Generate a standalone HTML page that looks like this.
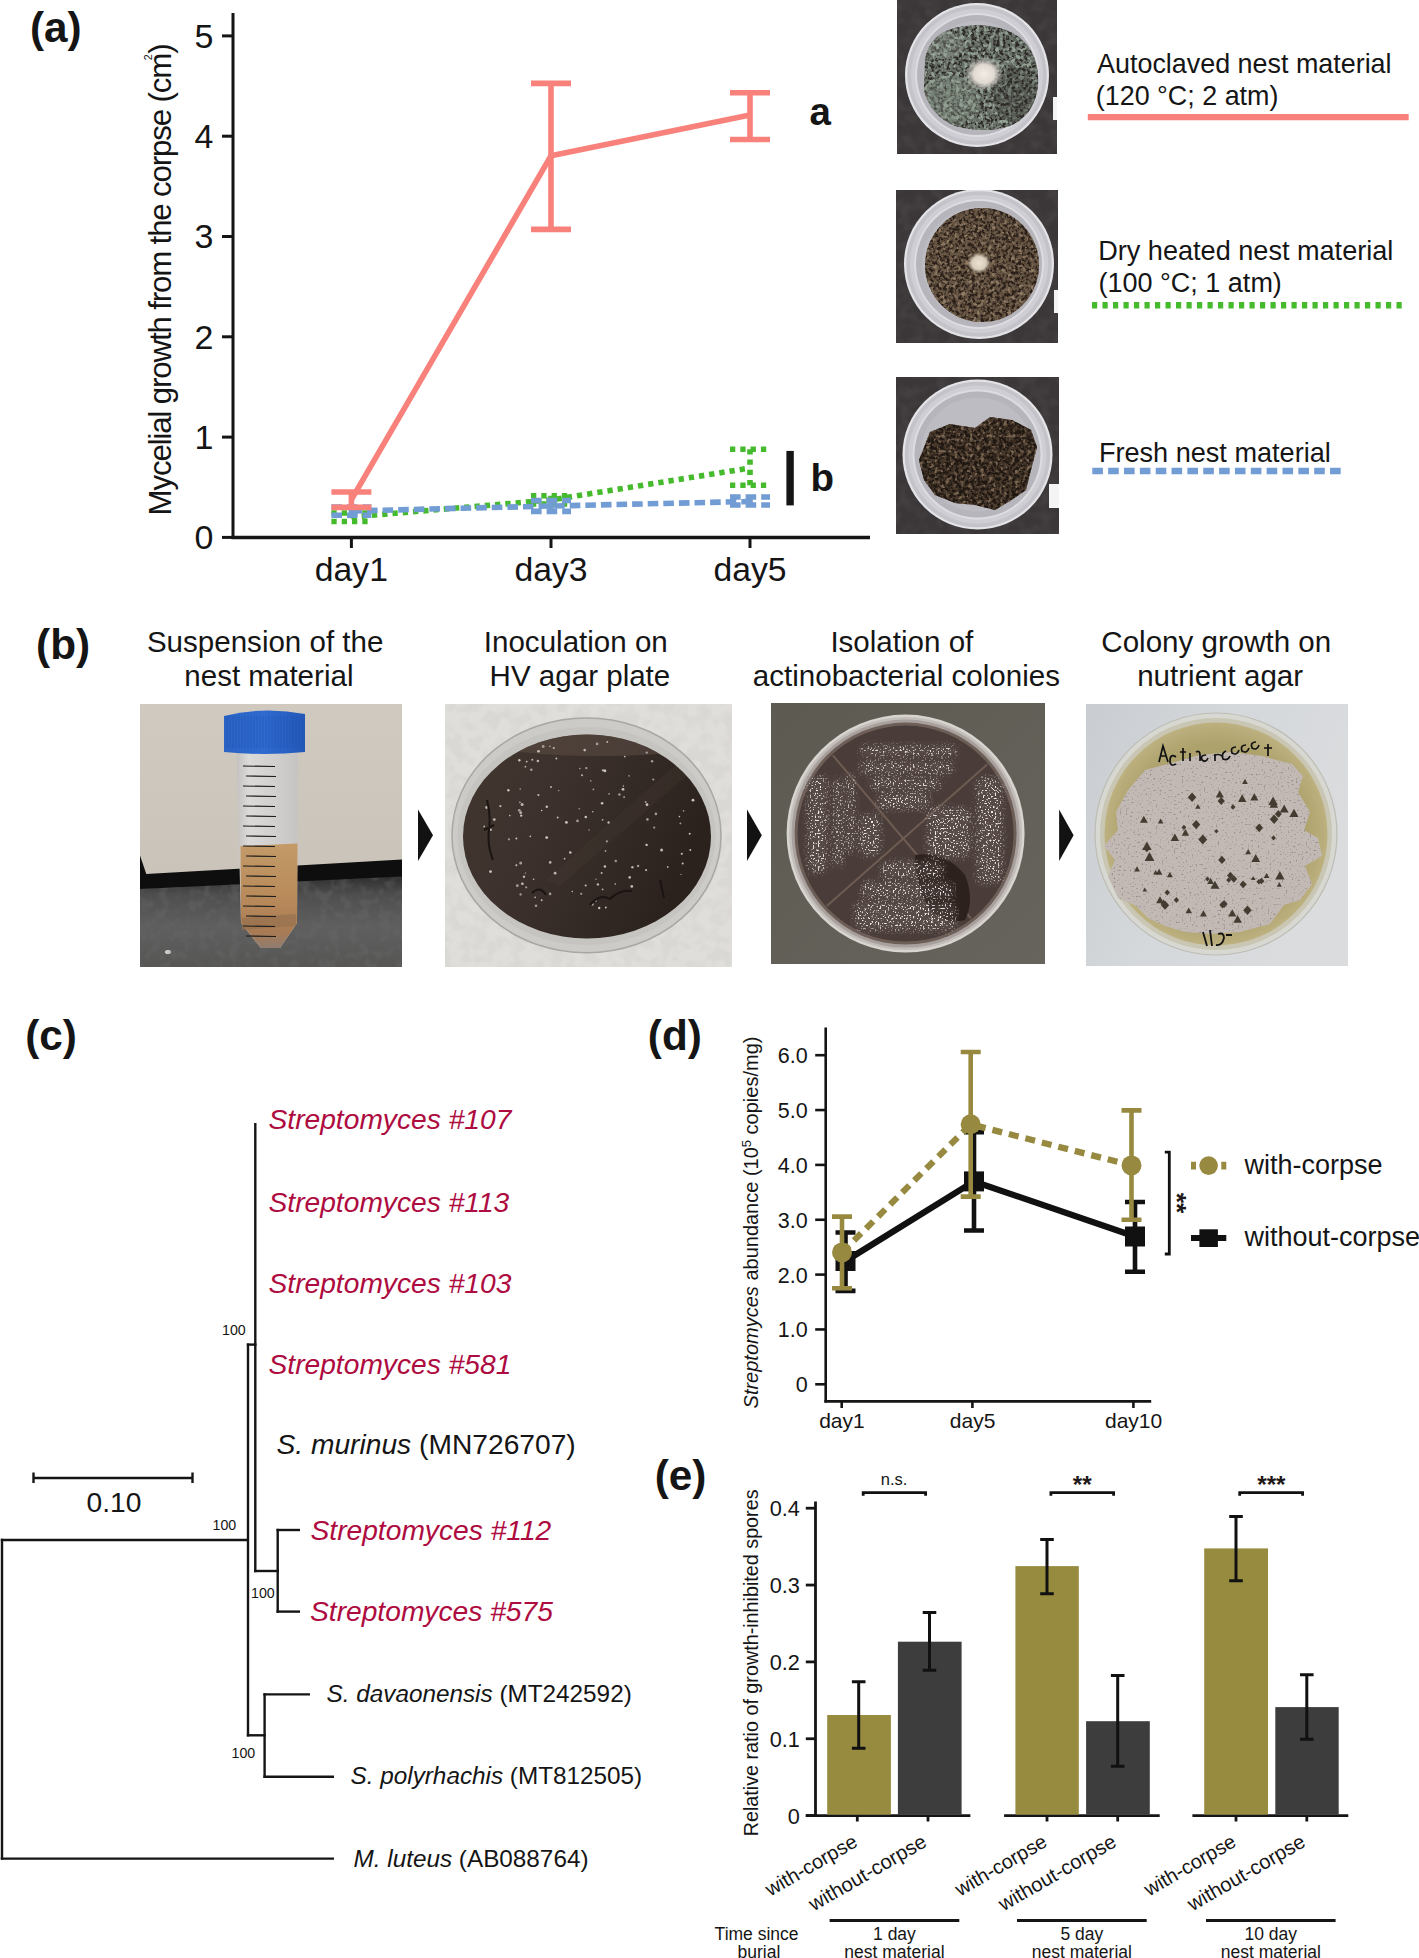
<!DOCTYPE html>
<html><head><meta charset="utf-8"><title>Figure</title>
<style>
html,body{margin:0;padding:0;background:#fff;width:1419px;height:1958px;overflow:hidden}
svg{display:block}
text{font-family:"Liberation Sans", sans-serif}
</style></head><body>
<svg width="1419" height="1958" viewBox="0 0 1419 1958">
<rect width="1419" height="1958" fill="#fff"/>
<text x="30" y="41.7" font-size="42.3" text-anchor="start" font-weight="bold" fill="#151515" >(a)</text>
<line x1="233" y1="13" x2="233" y2="539" stroke="#151515" stroke-width="3" />
<line x1="231.5" y1="537.5" x2="870" y2="537.5" stroke="#151515" stroke-width="3.5" />
<line x1="222" y1="537.4" x2="233" y2="537.4" stroke="#151515" stroke-width="3" />
<text x="213.4" y="549.1999999999999" font-size="34" text-anchor="end" fill="#151515" >0</text>
<line x1="222" y1="437.09999999999997" x2="233" y2="437.09999999999997" stroke="#151515" stroke-width="3" />
<text x="213.4" y="448.9" font-size="34" text-anchor="end" fill="#151515" >1</text>
<line x1="222" y1="336.79999999999995" x2="233" y2="336.79999999999995" stroke="#151515" stroke-width="3" />
<text x="213.4" y="348.59999999999997" font-size="34" text-anchor="end" fill="#151515" >2</text>
<line x1="222" y1="236.5" x2="233" y2="236.5" stroke="#151515" stroke-width="3" />
<text x="213.4" y="248.3" font-size="34" text-anchor="end" fill="#151515" >3</text>
<line x1="222" y1="136.2" x2="233" y2="136.2" stroke="#151515" stroke-width="3" />
<text x="213.4" y="148.0" font-size="34" text-anchor="end" fill="#151515" >4</text>
<line x1="222" y1="35.89999999999998" x2="233" y2="35.89999999999998" stroke="#151515" stroke-width="3" />
<text x="213.4" y="47.699999999999974" font-size="34" text-anchor="end" fill="#151515" >5</text>
<line x1="351.4" y1="537" x2="351.4" y2="548" stroke="#151515" stroke-width="3" />
<text x="351.4" y="581" font-size="33.7" text-anchor="middle" fill="#151515" >day1</text>
<line x1="551" y1="537" x2="551" y2="548" stroke="#151515" stroke-width="3" />
<text x="551" y="581" font-size="33.7" text-anchor="middle" fill="#151515" >day3</text>
<line x1="750" y1="537" x2="750" y2="548" stroke="#151515" stroke-width="3" />
<text x="750" y="581" font-size="33.7" text-anchor="middle" fill="#151515" >day5</text>
<text transform="translate(171,279.4) rotate(-90)" font-size="31.3" text-anchor="middle" textLength="472" lengthAdjust="spacing" fill="#151515">Mycelial growth from the corpse (cm)</text>
<text transform="translate(152,57.3) rotate(-90)" font-size="10.7" text-anchor="middle" fill="#151515">2</text>
<path d="M331.4,513H371.4M351.4,513V521.5M331.4,521.5H371.4" stroke="#45BA2C" stroke-width="5.6" fill="none" stroke-dasharray="5.3 5"/>
<path d="M531.0,495.7H571.0M551,495.7V504M531.0,504H571.0" stroke="#45BA2C" stroke-width="5.6" fill="none" stroke-dasharray="5.3 5"/>
<path d="M730.0,449.2H770.0M750,449.2V485.2M730.0,485.2H770.0" stroke="#45BA2C" stroke-width="5.6" fill="none" stroke-dasharray="5.3 5"/>
<polyline points="351.4,517 551,500 750,468" stroke="#45BA2C" stroke-width="5.6" fill="none" stroke-dasharray="5.3 5"/>
<path d="M331.4,507H371.4M351.4,507V515.3M331.4,515.3H371.4" stroke="#729CD4" stroke-width="5.6" fill="none" stroke-dasharray="10.6 5"/>
<path d="M531.0,500.5H571.0M551,500.5V511.4M531.0,511.4H571.0" stroke="#729CD4" stroke-width="5.6" fill="none" stroke-dasharray="10.6 5"/>
<path d="M730.0,497H770.0M750,497V505M730.0,505H770.0" stroke="#729CD4" stroke-width="5.6" fill="none" stroke-dasharray="10.6 5"/>
<polyline points="351.4,511 551,506 750,501.5" stroke="#729CD4" stroke-width="5.6" fill="none" stroke-dasharray="10.6 5"/>
<path d="M331.4,492H371.4M351.4,492V507.4M331.4,507.4H371.4" stroke="#F8827B" stroke-width="5.6" fill="none" />
<path d="M531.0,83.4H571.0M551,83.4V229.4M531.0,229.4H571.0" stroke="#F8827B" stroke-width="5.6" fill="none" />
<path d="M730.0,92.7H770.0M750,92.7V139.5M730.0,139.5H770.0" stroke="#F8827B" stroke-width="5.6" fill="none" />
<polyline points="351.4,499.7 551,155.8 750,115" stroke="#F8827B" stroke-width="5.6" fill="none" />
<text x="809.6" y="125.3" font-size="38.5" text-anchor="start" font-weight="bold" fill="#151515" >a</text>
<line x1="790.1" y1="450.9" x2="790.1" y2="505.4" stroke="#151515" stroke-width="7.4" />
<text x="810.4" y="490.7" font-size="38.5" text-anchor="start" font-weight="bold" fill="#151515" >b</text>
<text x="1097.1" y="72.6" font-size="26.9" text-anchor="start" fill="#151515" >Autoclaved nest material</text>
<text x="1095.8" y="104.8" font-size="26.9" text-anchor="start" fill="#151515" >(120 °C; 2 atm)</text>
<line x1="1087.8" y1="117.1" x2="1408.7" y2="117.1" stroke="#F8827B" stroke-width="6.2" />
<text x="1098.2" y="259.8" font-size="27.1" text-anchor="start" fill="#151515" >Dry heated nest material</text>
<text x="1098.5" y="291.6" font-size="27.0" text-anchor="start" fill="#151515" >(100 °C; 1 atm)</text>
<line x1="1092" y1="305.3" x2="1401.7" y2="305.3" stroke="#45BA2C" stroke-width="6.4" stroke-dasharray="5.2 5.3"/>
<text x="1098.9" y="461.5" font-size="27.1" text-anchor="start" fill="#151515" >Fresh nest material</text>
<line x1="1092.3" y1="471" x2="1340.7" y2="471" stroke="#729CD4" stroke-width="6.6" stroke-dasharray="10.6 5.25"/>
<clipPath id="clipgreen"><rect x="897" y="0" width="160" height="154"/></clipPath>
<g clip-path="url(#clipgreen)">
<rect x="897" y="0" width="160" height="154" fill="#3b3738" />
<filter id="nz1" x="0" y="0" width="1" height="1" filterUnits="objectBoundingBox" color-interpolation-filters="sRGB"><feTurbulence type="fractalNoise" baseFrequency="0.08" numOctaves="2" seed="7"/><feColorMatrix type="matrix" values="0 0 0 0 0.290  0 0 0 0 0.275  0 0 0 0 0.278  3 0 0 0 -1.2"/></filter>
<rect x="897" y="0" width="160" height="154" filter="url(#nz1)" opacity="0.6"/>
<circle cx="977" cy="75" r="72" fill="#e4e4e8"/>
<circle cx="977" cy="75" r="69.8" fill="#c4c3c9"/>
<circle cx="977" cy="75" r="66" fill="#cfced4"/>
<circle cx="977" cy="75" r="62" fill="#dddce1"/>
<circle cx="977" cy="75" r="60" fill="#b6b5bb"/>
<circle cx="977" cy="75" r="54" fill="#bdbcc2"/>
<clipPath id="matgreen"><path d="M925,60 Q930,30 965,26 Q1000,22 1020,38 Q1040,55 1038,85 Q1035,115 1010,126 Q985,134 955,126 Q930,115 924,90Z"/></clipPath>
<path d="M925,60 Q930,30 965,26 Q1000,22 1020,38 Q1040,55 1038,85 Q1035,115 1010,126 Q985,134 955,126 Q930,115 924,90Z" fill="#687068"/>
<filter id="nz2" x="0" y="0" width="1" height="1" filterUnits="objectBoundingBox" color-interpolation-filters="sRGB"><feTurbulence type="fractalNoise" baseFrequency="0.32" numOctaves="2" seed="11"/><feColorMatrix type="matrix" values="0 0 0 0 0.173  0 0 0 0 0.157  0 0 0 0 0.149  5 0 0 0 -2.2"/></filter>
<rect x="918" y="18" width="126" height="120" filter="url(#nz2)" clip-path="url(#matgreen)"/>
<filter id="nz3" x="0" y="0" width="1" height="1" filterUnits="objectBoundingBox" color-interpolation-filters="sRGB"><feTurbulence type="fractalNoise" baseFrequency="0.25" numOctaves="2" seed="12"/><feColorMatrix type="matrix" values="0 0 0 0 0.576  0 0 0 0 0.631  0 0 0 0 0.580  5 0 0 0 -2.5"/></filter>
<rect x="918" y="18" width="126" height="120" filter="url(#nz3)" clip-path="url(#matgreen)"/>
<ellipse cx="950" cy="100" rx="30" ry="25" fill="#91a093" opacity="0.35" clip-path="url(#matgreen)"/>
<ellipse cx="1015" cy="95" rx="22" ry="28" fill="#2e2a27" opacity="0.3" clip-path="url(#matgreen)"/>
<ellipse cx="945" cy="45" rx="20" ry="14" fill="#9ea8a0" opacity="0.3" clip-path="url(#matgreen)"/>
<defs><radialGradient id="blob1"><stop offset="0" stop-color="#f2ece4"/><stop offset="0.55" stop-color="#e0d9d2"/><stop offset="1" stop-color="#c8c4bf" stop-opacity="0"/></radialGradient></defs>
<ellipse cx="984" cy="74" rx="19" ry="17" fill="url(#blob1)"/>
<rect x="1053" y="97" width="4" height="23" fill="#f4f4f4" />
</g>
<clipPath id="clipbrown"><rect x="896" y="190" width="162" height="153"/></clipPath>
<g clip-path="url(#clipbrown)">
<rect x="896" y="190" width="162" height="153" fill="#3b3738" />
<filter id="nz4" x="0" y="0" width="1" height="1" filterUnits="objectBoundingBox" color-interpolation-filters="sRGB"><feTurbulence type="fractalNoise" baseFrequency="0.08" numOctaves="2" seed="7"/><feColorMatrix type="matrix" values="0 0 0 0 0.290  0 0 0 0 0.275  0 0 0 0 0.278  3 0 0 0 -1.2"/></filter>
<rect x="896" y="190" width="162" height="153" filter="url(#nz4)" opacity="0.6"/>
<circle cx="979" cy="264" r="75" fill="#e4e4e8"/>
<circle cx="979" cy="264" r="72.8" fill="#c4c3c9"/>
<circle cx="979" cy="264" r="69" fill="#cfced4"/>
<circle cx="979" cy="264" r="65" fill="#dddce1"/>
<circle cx="979" cy="264" r="63" fill="#b6b5bb"/>
<circle cx="979" cy="264" r="57" fill="#bdbcc2"/>
<clipPath id="matbrown"><circle cx="982" cy="265" r="57"/></clipPath>
<circle cx="982" cy="265" r="57" fill="#675543"/>
<filter id="nz5" x="0" y="0" width="1" height="1" filterUnits="objectBoundingBox" color-interpolation-filters="sRGB"><feTurbulence type="fractalNoise" baseFrequency="0.32" numOctaves="2" seed="21"/><feColorMatrix type="matrix" values="0 0 0 0 0.165  0 0 0 0 0.125  0 0 0 0 0.098  5 0 0 0 -2.1"/></filter>
<rect x="922" y="205" width="120" height="120" filter="url(#nz5)" clip-path="url(#matbrown)"/>
<filter id="nz6" x="0" y="0" width="1" height="1" filterUnits="objectBoundingBox" color-interpolation-filters="sRGB"><feTurbulence type="fractalNoise" baseFrequency="0.26" numOctaves="2" seed="22"/><feColorMatrix type="matrix" values="0 0 0 0 0.561  0 0 0 0 0.482  0 0 0 0 0.392  5 0 0 0 -2.7"/></filter>
<rect x="922" y="205" width="120" height="120" filter="url(#nz6)" clip-path="url(#matbrown)"/>
<defs><radialGradient id="blob2"><stop offset="0" stop-color="#eee4d4"/><stop offset="0.6" stop-color="#d8ccba"/><stop offset="1" stop-color="#b0a290" stop-opacity="0"/></radialGradient></defs>
<ellipse cx="979" cy="263" rx="12" ry="11" fill="url(#blob2)"/>
<rect x="1054" y="290" width="4" height="23" fill="#f4f4f4" />
</g>
<clipPath id="clipfresh"><rect x="896" y="377" width="163" height="157"/></clipPath>
<g clip-path="url(#clipfresh)">
<rect x="896" y="377" width="163" height="157" fill="#3b3738" />
<filter id="nz7" x="0" y="0" width="1" height="1" filterUnits="objectBoundingBox" color-interpolation-filters="sRGB"><feTurbulence type="fractalNoise" baseFrequency="0.08" numOctaves="2" seed="7"/><feColorMatrix type="matrix" values="0 0 0 0 0.290  0 0 0 0 0.275  0 0 0 0 0.278  3 0 0 0 -1.2"/></filter>
<rect x="896" y="377" width="163" height="157" filter="url(#nz7)" opacity="0.6"/>
<circle cx="977.5" cy="454.5" r="75" fill="#e4e4e8"/>
<circle cx="977.5" cy="454.5" r="72.8" fill="#c4c3c9"/>
<circle cx="977.5" cy="454.5" r="69" fill="#cfced4"/>
<circle cx="977.5" cy="454.5" r="65" fill="#dddce1"/>
<circle cx="977.5" cy="454.5" r="63" fill="#b6b5bb"/>
<circle cx="977.5" cy="454.5" r="57" fill="#bdbcc2"/>
<clipPath id="matfresh"><path d="M930,432 L950,424 L975,428 L990,417 L1012,420 L1031,430 L1037,447 L1031,470 L1026,490 L1010,501 L995,510 L975,505 L955,503 L935,495 L924,480 L919,460Z"/></clipPath>
<path d="M930,432 L950,424 L975,428 L990,417 L1012,420 L1031,430 L1037,447 L1031,470 L1026,490 L1010,501 L995,510 L975,505 L955,503 L935,495 L924,480 L919,460Z" fill="#48392c"/>
<filter id="nz8" x="0" y="0" width="1" height="1" filterUnits="objectBoundingBox" color-interpolation-filters="sRGB"><feTurbulence type="fractalNoise" baseFrequency="0.32" numOctaves="2" seed="31"/><feColorMatrix type="matrix" values="0 0 0 0 0.122  0 0 0 0 0.090  0 0 0 0 0.067  5 0 0 0 -1.95"/></filter>
<rect x="915" y="412" width="126" height="102" filter="url(#nz8)" clip-path="url(#matfresh)"/>
<filter id="nz9" x="0" y="0" width="1" height="1" filterUnits="objectBoundingBox" color-interpolation-filters="sRGB"><feTurbulence type="fractalNoise" baseFrequency="0.26" numOctaves="2" seed="32"/><feColorMatrix type="matrix" values="0 0 0 0 0.486  0 0 0 0 0.408  0 0 0 0 0.322  5 0 0 0 -2.7"/></filter>
<rect x="915" y="412" width="126" height="102" filter="url(#nz9)" clip-path="url(#matfresh)"/>
<rect x="1049" y="484" width="10" height="24" fill="#f4f4f4" />
</g>
<text x="36.1" y="659.2" font-size="42.3" text-anchor="start" font-weight="bold" fill="#151515" >(b)</text>
<text x="146.9" y="651.5" font-size="29.55" text-anchor="start" fill="#151515" >Suspension of the</text>
<text x="184.3" y="686.3" font-size="29.55" text-anchor="start" fill="#151515" >nest material</text>
<text x="483.8" y="651.5" font-size="29.55" text-anchor="start" fill="#151515" >Inoculation on</text>
<text x="489.6" y="686.3" font-size="29.55" text-anchor="start" fill="#151515" >HV agar plate</text>
<text x="830.4" y="651.5" font-size="29.55" text-anchor="start" fill="#151515" >Isolation of</text>
<text x="752.8" y="686.3" font-size="29.55" text-anchor="start" fill="#151515" >actinobacterial colonies</text>
<text x="1101.3" y="651.5" font-size="29.55" text-anchor="start" fill="#151515" >Colony growth on</text>
<text x="1137.2" y="686.3" font-size="29.55" text-anchor="start" fill="#151515" >nutrient agar</text>
<path d="M418,809.5L433,835.3L418,861.1Z" fill="#121212"/>
<path d="M747,809.5L761.8,835.3L747,861.1Z" fill="#121212"/>
<path d="M1059.1,809.5L1073.6,835.3L1059.1,861.1Z" fill="#121212"/>
<clipPath id="cb1"><rect x="140" y="704" width="262" height="263"/></clipPath><g clip-path="url(#cb1)">
<defs><linearGradient id="gwall" x1="0" y1="0" x2="0" y2="1"><stop offset="0" stop-color="#cfc9c0"/><stop offset="0.6" stop-color="#cbc4bb"/><stop offset="1" stop-color="#bfb8ae"/></linearGradient><linearGradient id="gfloor" x1="0" y1="0" x2="0" y2="1"><stop offset="0" stop-color="#2e2e2f"/><stop offset="0.2" stop-color="#4e4e4f"/><stop offset="0.55" stop-color="#5f5f5f"/><stop offset="1" stop-color="#575655"/></linearGradient><linearGradient id="gliq" x1="0" y1="0" x2="0" y2="1"><stop offset="0" stop-color="#c39a68"/><stop offset="0.5" stop-color="#b98b5b"/><stop offset="0.85" stop-color="#a97b54"/><stop offset="1" stop-color="#8f7d70"/></linearGradient><linearGradient id="gtube" x1="0" y1="0" x2="1" y2="0"><stop offset="0" stop-color="#c3c1bf"/><stop offset="0.2" stop-color="#dcdad8"/><stop offset="0.6" stop-color="#d2d0ce"/><stop offset="1" stop-color="#c6c4c2"/></linearGradient><linearGradient id="gcap" x1="0" y1="0" x2="1" y2="0"><stop offset="0" stop-color="#2a63c4"/><stop offset="0.5" stop-color="#2f6ad0"/><stop offset="1" stop-color="#2458b8"/></linearGradient></defs>
<rect x="140" y="704" width="262" height="263" fill="url(#gwall)" />
<path d="M140,855.6 L146.3,874 L402,859.6 L402,967 L140,967Z" fill="#0f0e0e"/>
<path d="M140,889 L402,876.4 L402,967 L140,967Z" fill="url(#gfloor)"/>
<ellipse cx="168" cy="952" rx="3" ry="2" fill="#f0f0f0"/>
<clipPath id="cfloor"><path d="M140,889 L402,876.4 L402,967 L140,967Z"/></clipPath>
<filter id="nz10" x="0" y="0" width="1" height="1" filterUnits="objectBoundingBox" color-interpolation-filters="sRGB"><feTurbulence type="fractalNoise" baseFrequency="0.1" numOctaves="2" seed="41"/><feColorMatrix type="matrix" values="0 0 0 0 0.416  0 0 0 0 0.416  0 0 0 0 0.416  4 0 0 0 -1.8"/></filter>
<rect x="140" y="876" width="262" height="91" filter="url(#nz10)" clip-path="url(#cfloor)" opacity="0.35"/>
<path d="M236.6,752 L298,752 L297,923 L280,948 L261,948 L241,923Z" fill="url(#gtube)"/>
<path d="M240.5,846 L297.5,843.5 L297,923 L280,948 L261,948 L241,923Z" fill="url(#gliq)"/>
<path d="M242,918 L296,914 L296,926 L242,930Z" fill="#96704e" opacity="0.7"/>
<line x1="243" y1="766" x2="275" y2="766.5" stroke="#1a1a1a" stroke-width="1.1"/>
<line x1="246" y1="776" x2="276" y2="776.5" stroke="#1a1a1a" stroke-width="1.1"/>
<line x1="243" y1="786" x2="275" y2="786.5" stroke="#1a1a1a" stroke-width="1.1"/>
<line x1="246" y1="796" x2="276" y2="796.5" stroke="#1a1a1a" stroke-width="1.1"/>
<line x1="243" y1="806" x2="275" y2="806.5" stroke="#1a1a1a" stroke-width="1.1"/>
<line x1="246" y1="816" x2="276" y2="816.5" stroke="#1a1a1a" stroke-width="1.1"/>
<line x1="243" y1="826" x2="275" y2="826.5" stroke="#1a1a1a" stroke-width="1.1"/>
<line x1="246" y1="836" x2="276" y2="836.5" stroke="#1a1a1a" stroke-width="1.1"/>
<line x1="243" y1="846" x2="275" y2="846.5" stroke="#1a1a1a" stroke-width="1.1"/>
<line x1="246" y1="856" x2="276" y2="856.5" stroke="#1a1a1a" stroke-width="1.1"/>
<line x1="243" y1="866" x2="275" y2="866.5" stroke="#1a1a1a" stroke-width="1.1"/>
<line x1="246" y1="876" x2="276" y2="876.5" stroke="#1a1a1a" stroke-width="1.1"/>
<line x1="243" y1="886" x2="275" y2="886.5" stroke="#1a1a1a" stroke-width="1.1"/>
<line x1="246" y1="896" x2="276" y2="896.5" stroke="#1a1a1a" stroke-width="1.1"/>
<line x1="243" y1="906" x2="275" y2="906.5" stroke="#1a1a1a" stroke-width="1.1"/>
<line x1="246" y1="916" x2="276" y2="916.5" stroke="#1a1a1a" stroke-width="1.1"/>
<line x1="243" y1="926" x2="275" y2="926.5" stroke="#1a1a1a" stroke-width="1.1"/>
<line x1="246" y1="936" x2="276" y2="936.5" stroke="#1a1a1a" stroke-width="1.1"/>
<path d="M224,716 Q264,706 305,714 L305,752 Q264,756 224,752Z" fill="url(#gcap)"/>
<line x1="227" y1="716" x2="227" y2="748" stroke="#1d4fa8" stroke-width="0.8" opacity="0.6"/>
<line x1="230" y1="716" x2="230" y2="748" stroke="#1d4fa8" stroke-width="0.8" opacity="0.6"/>
<line x1="233" y1="716" x2="233" y2="748" stroke="#1d4fa8" stroke-width="0.8" opacity="0.6"/>
<line x1="236" y1="716" x2="236" y2="748" stroke="#1d4fa8" stroke-width="0.8" opacity="0.6"/>
<line x1="239" y1="716" x2="239" y2="748" stroke="#1d4fa8" stroke-width="0.8" opacity="0.6"/>
<line x1="242" y1="716" x2="242" y2="748" stroke="#1d4fa8" stroke-width="0.8" opacity="0.6"/>
<line x1="245" y1="716" x2="245" y2="748" stroke="#1d4fa8" stroke-width="0.8" opacity="0.6"/>
<line x1="248" y1="716" x2="248" y2="748" stroke="#1d4fa8" stroke-width="0.8" opacity="0.6"/>
<line x1="251" y1="716" x2="251" y2="748" stroke="#1d4fa8" stroke-width="0.8" opacity="0.6"/>
<line x1="254" y1="716" x2="254" y2="748" stroke="#1d4fa8" stroke-width="0.8" opacity="0.6"/>
<line x1="257" y1="716" x2="257" y2="748" stroke="#1d4fa8" stroke-width="0.8" opacity="0.6"/>
<line x1="260" y1="716" x2="260" y2="748" stroke="#1d4fa8" stroke-width="0.8" opacity="0.6"/>
<line x1="263" y1="716" x2="263" y2="748" stroke="#1d4fa8" stroke-width="0.8" opacity="0.6"/>
<line x1="266" y1="716" x2="266" y2="748" stroke="#1d4fa8" stroke-width="0.8" opacity="0.6"/>
<line x1="269" y1="716" x2="269" y2="748" stroke="#1d4fa8" stroke-width="0.8" opacity="0.6"/>
<line x1="272" y1="716" x2="272" y2="748" stroke="#1d4fa8" stroke-width="0.8" opacity="0.6"/>
<line x1="275" y1="716" x2="275" y2="748" stroke="#1d4fa8" stroke-width="0.8" opacity="0.6"/>
<line x1="278" y1="716" x2="278" y2="748" stroke="#1d4fa8" stroke-width="0.8" opacity="0.6"/>
<line x1="281" y1="716" x2="281" y2="748" stroke="#1d4fa8" stroke-width="0.8" opacity="0.6"/>
<line x1="284" y1="716" x2="284" y2="748" stroke="#1d4fa8" stroke-width="0.8" opacity="0.6"/>
<line x1="287" y1="716" x2="287" y2="748" stroke="#1d4fa8" stroke-width="0.8" opacity="0.6"/>
<line x1="290" y1="716" x2="290" y2="748" stroke="#1d4fa8" stroke-width="0.8" opacity="0.6"/>
<line x1="293" y1="716" x2="293" y2="748" stroke="#1d4fa8" stroke-width="0.8" opacity="0.6"/>
<line x1="296" y1="716" x2="296" y2="748" stroke="#1d4fa8" stroke-width="0.8" opacity="0.6"/>
<line x1="299" y1="716" x2="299" y2="748" stroke="#1d4fa8" stroke-width="0.8" opacity="0.6"/>
<line x1="302" y1="716" x2="302" y2="748" stroke="#1d4fa8" stroke-width="0.8" opacity="0.6"/>
</g>
<clipPath id="cb2"><rect x="445" y="704" width="287" height="263"/></clipPath><g clip-path="url(#cb2)">
<defs><linearGradient id="gagar2" x1="0" y1="0" x2="1" y2="0.35"><stop offset="0" stop-color="#42372f"/><stop offset="0.45" stop-color="#3b302c"/><stop offset="0.75" stop-color="#322824"/><stop offset="1" stop-color="#2b221e"/></linearGradient></defs>
<rect x="445" y="704" width="287" height="263" fill="#e0deda" />
<filter id="nz11" x="0" y="0" width="1" height="1" filterUnits="objectBoundingBox" color-interpolation-filters="sRGB"><feTurbulence type="fractalNoise" baseFrequency="0.08" numOctaves="2" seed="42"/><feColorMatrix type="matrix" values="0 0 0 0 0.812  0 0 0 0 0.804  0 0 0 0 0.788  4 0 0 0 -1.6"/></filter>
<rect x="445" y="704" width="287" height="263" filter="url(#nz11)" opacity="0.35"/>
<ellipse cx="586.5" cy="835.4" rx="134.5" ry="117.4" fill="#cdcbc8" stroke="#a9a7a4" stroke-width="1.5"/>
<ellipse cx="586.5" cy="836" rx="129" ry="109" fill="#c6c4c1"/>
<ellipse cx="587" cy="836.5" rx="124" ry="102" fill="url(#gagar2)"/>
<clipPath id="cagar2"><ellipse cx="587" cy="836.5" rx="124" ry="102"/></clipPath>
<ellipse cx="600" cy="742" rx="110" ry="14" fill="#5a4b43" opacity="0.6" clip-path="url(#cagar2)"/>
<path d="M690,752 L545,880 L560,886 L705,760Z" fill="#55493f" opacity="0.18" clip-path="url(#cagar2)"/>
<g><circle cx="519.3" cy="760.2" r="1.2" fill="#cbc3be"/><circle cx="601.6" cy="872.9" r="1.0" fill="#bdb5b0"/><circle cx="607.3" cy="741.9" r="0.9" fill="#cbc3be"/><circle cx="520.6" cy="894.4" r="1.2" fill="#a39b96"/><circle cx="604.9" cy="866.5" r="1.2" fill="#cbc3be"/><circle cx="519.3" cy="810.3" r="1.4" fill="#a39b96"/><circle cx="593.4" cy="789.4" r="0.9" fill="#a39b96"/><circle cx="597.1" cy="743.9" r="1.4" fill="#a39b96"/><circle cx="541.7" cy="900.3" r="1.0" fill="#bdb5b0"/><circle cx="546.8" cy="806.8" r="1.2" fill="#cbc3be"/><circle cx="606.9" cy="841.3" r="1.1" fill="#a39b96"/><circle cx="679.4" cy="816.6" r="0.8" fill="#cbc3be"/><circle cx="557.7" cy="817.4" r="1.0" fill="#bdb5b0"/><circle cx="592.7" cy="811.7" r="0.8" fill="#bdb5b0"/><circle cx="516.4" cy="838.6" r="1.0" fill="#cbc3be"/><circle cx="681.8" cy="853.8" r="1.1" fill="#bdb5b0"/><circle cx="597.9" cy="884.4" r="1.2" fill="#bdb5b0"/><circle cx="624.8" cy="756.6" r="0.9" fill="#bdb5b0"/><circle cx="581.2" cy="893.8" r="1.1" fill="#a39b96"/><circle cx="508.4" cy="790.3" r="1.2" fill="#cbc3be"/><circle cx="584.7" cy="750.1" r="1.3" fill="#bdb5b0"/><circle cx="661.6" cy="849.9" r="1.5" fill="#bdb5b0"/><circle cx="519.9" cy="802.4" r="0.8" fill="#bdb5b0"/><circle cx="516.4" cy="865.3" r="1.0" fill="#cbc3be"/><circle cx="520.7" cy="862.9" r="1.5" fill="#a39b96"/><circle cx="535.1" cy="897.4" r="0.8" fill="#cbc3be"/><circle cx="646.6" cy="844.9" r="1.2" fill="#cbc3be"/><circle cx="555.1" cy="873.2" r="1.4" fill="#bdb5b0"/><circle cx="486.6" cy="807.5" r="1.4" fill="#bdb5b0"/><circle cx="524.0" cy="876.7" r="1.2" fill="#bdb5b0"/><circle cx="646.1" cy="870.1" r="1.1" fill="#bdb5b0"/><circle cx="604.8" cy="770.8" r="1.5" fill="#cbc3be"/><circle cx="490.7" cy="829.8" r="1.2" fill="#bdb5b0"/><circle cx="667.7" cy="866.9" r="0.9" fill="#bdb5b0"/><circle cx="526.2" cy="887.3" r="1.1" fill="#a39b96"/><circle cx="530.3" cy="836.4" r="0.8" fill="#cbc3be"/><circle cx="632.4" cy="867.3" r="1.2" fill="#bdb5b0"/><circle cx="517.3" cy="885.7" r="1.4" fill="#a39b96"/><circle cx="623.0" cy="789.3" r="1.4" fill="#cbc3be"/><circle cx="520.2" cy="789.1" r="0.8" fill="#a39b96"/><circle cx="589.1" cy="830.0" r="0.8" fill="#a39b96"/><circle cx="520.7" cy="812.7" r="1.4" fill="#bdb5b0"/><circle cx="564.6" cy="858.7" r="0.9" fill="#bdb5b0"/><circle cx="553.8" cy="748.0" r="1.1" fill="#bdb5b0"/><circle cx="522.1" cy="804.6" r="1.5" fill="#bdb5b0"/><circle cx="596.1" cy="879.3" r="0.7" fill="#a39b96"/><circle cx="631.8" cy="886.4" r="1.4" fill="#bdb5b0"/><circle cx="605.8" cy="907.5" r="0.9" fill="#cbc3be"/><circle cx="570.3" cy="852.5" r="1.3" fill="#cbc3be"/><circle cx="550.2" cy="862.4" r="1.3" fill="#bdb5b0"/><circle cx="624.1" cy="797.1" r="0.9" fill="#bdb5b0"/><circle cx="532.3" cy="759.7" r="1.0" fill="#bdb5b0"/><circle cx="541.7" cy="810.5" r="0.8" fill="#cbc3be"/><circle cx="546.7" cy="837.6" r="1.4" fill="#cbc3be"/><circle cx="680.4" cy="823.4" r="0.9" fill="#a39b96"/><circle cx="526.7" cy="761.6" r="0.9" fill="#cbc3be"/><circle cx="602.6" cy="819.8" r="0.9" fill="#bdb5b0"/><circle cx="585.7" cy="885.5" r="1.1" fill="#bdb5b0"/><circle cx="629.1" cy="775.9" r="0.8" fill="#a39b96"/><circle cx="608.6" cy="822.5" r="1.2" fill="#bdb5b0"/><circle cx="566.4" cy="822.4" r="1.4" fill="#cbc3be"/><circle cx="558.8" cy="790.6" r="0.7" fill="#bdb5b0"/><circle cx="646.8" cy="752.6" r="1.2" fill="#a39b96"/><circle cx="537.9" cy="761.0" r="1.3" fill="#bdb5b0"/><circle cx="609.1" cy="793.8" r="0.9" fill="#a39b96"/><circle cx="522.4" cy="883.8" r="1.3" fill="#cbc3be"/><circle cx="602.8" cy="770.2" r="1.0" fill="#cbc3be"/><circle cx="602.6" cy="889.4" r="0.9" fill="#bdb5b0"/><circle cx="653.3" cy="779.5" r="1.1" fill="#a39b96"/><circle cx="543.2" cy="746.5" r="1.4" fill="#a39b96"/><circle cx="602.1" cy="803.2" r="1.3" fill="#cbc3be"/><circle cx="645.6" cy="802.1" r="1.0" fill="#a39b96"/><circle cx="508.9" cy="839.3" r="1.1" fill="#a39b96"/><circle cx="652.1" cy="761.3" r="1.2" fill="#a39b96"/><circle cx="683.6" cy="810.9" r="0.8" fill="#a39b96"/><circle cx="623.4" cy="786.0" r="0.7" fill="#cbc3be"/><circle cx="586.3" cy="768.1" r="1.2" fill="#a39b96"/><circle cx="500.4" cy="806.2" r="1.1" fill="#bdb5b0"/><circle cx="638.1" cy="865.9" r="1.2" fill="#a39b96"/><circle cx="577.5" cy="820.9" r="1.3" fill="#a39b96"/><circle cx="550.1" cy="893.9" r="1.3" fill="#a39b96"/><circle cx="599.2" cy="908.0" r="1.2" fill="#cbc3be"/><circle cx="605.5" cy="851.0" r="0.9" fill="#a39b96"/><circle cx="592.5" cy="904.4" r="1.3" fill="#a39b96"/><circle cx="494.3" cy="819.6" r="1.4" fill="#bdb5b0"/><circle cx="579.2" cy="808.8" r="0.8" fill="#a39b96"/><circle cx="484.2" cy="826.5" r="0.9" fill="#bdb5b0"/><circle cx="615.3" cy="884.0" r="0.8" fill="#cbc3be"/><circle cx="582.0" cy="775.2" r="1.0" fill="#bdb5b0"/><circle cx="579.9" cy="768.5" r="0.7" fill="#bdb5b0"/><circle cx="521.2" cy="815.6" r="1.2" fill="#cbc3be"/><circle cx="619.4" cy="794.5" r="1.2" fill="#a39b96"/><circle cx="538.4" cy="795.1" r="1.1" fill="#bdb5b0"/><circle cx="509.8" cy="815.6" r="0.8" fill="#cbc3be"/><circle cx="647.0" cy="804.7" r="1.4" fill="#cbc3be"/><circle cx="595.7" cy="900.7" r="1.1" fill="#bdb5b0"/><circle cx="525.4" cy="873.1" r="0.7" fill="#bdb5b0"/><circle cx="556.4" cy="758.5" r="0.9" fill="#cbc3be"/><circle cx="536.0" cy="905.8" r="1.3" fill="#a39b96"/><circle cx="585.8" cy="817.0" r="1.3" fill="#cbc3be"/><circle cx="682.7" cy="863.6" r="1.0" fill="#cbc3be"/><circle cx="615.8" cy="861.0" r="1.2" fill="#a39b96"/><circle cx="525.4" cy="766.7" r="0.9" fill="#bdb5b0"/><circle cx="489.2" cy="827.5" r="1.2" fill="#bdb5b0"/><circle cx="681.0" cy="874.4" r="0.7" fill="#a39b96"/><circle cx="654.2" cy="827.6" r="1.1" fill="#a39b96"/><circle cx="629.7" cy="877.4" r="1.3" fill="#bdb5b0"/><circle cx="549.9" cy="746.2" r="0.8" fill="#bdb5b0"/><circle cx="647.4" cy="819.4" r="1.3" fill="#a39b96"/><circle cx="590.8" cy="780.9" r="0.8" fill="#a39b96"/><circle cx="689.7" cy="833.8" r="1.0" fill="#cbc3be"/><circle cx="572.3" cy="891.5" r="0.8" fill="#bdb5b0"/><circle cx="690.3" cy="849.9" r="1.0" fill="#bdb5b0"/><circle cx="533.6" cy="879.3" r="0.8" fill="#cbc3be"/><circle cx="490.5" cy="871.6" r="1.4" fill="#cbc3be"/><circle cx="551.0" cy="787.0" r="1.0" fill="#bdb5b0"/><circle cx="693.0" cy="800.2" r="1.4" fill="#cbc3be"/><circle cx="538.5" cy="751.3" r="1.3" fill="#cbc3be"/><circle cx="655.9" cy="813.9" r="1.3" fill="#a39b96"/><circle cx="531.3" cy="769.8" r="1.3" fill="#a39b96"/></g>
<path d="M487,800 q4,15 2,30 t4,30 M484,830 l10,-5 M532,893 q8,-8 14,2 M590,905 q10,-12 20,-6 q10,-10 22,-8 M660,880 l4,18" stroke="#1a1412" stroke-width="2" fill="none"/>
</g>
<clipPath id="cb3"><rect x="771" y="703" width="274" height="261"/></clipPath><g clip-path="url(#cb3)">
<defs><linearGradient id="gbg3" x1="0" y1="0" x2="1" y2="1"><stop offset="0" stop-color="#5c5a51"/><stop offset="1" stop-color="#66645c"/></linearGradient></defs>
<rect x="771" y="703" width="274" height="261" fill="url(#gbg3)" />
<circle cx="905.6" cy="833.6" r="119" fill="#d8d4d0"/>
<circle cx="905.6" cy="833.6" r="116.5" fill="#c4beba"/>
<circle cx="905.6" cy="833.6" r="114" fill="#a8a09c"/>
<circle cx="905.6" cy="833.6" r="111" fill="#6e5e58"/>
<circle cx="905.6" cy="833.6" r="108" fill="#4a3d39"/>
<clipPath id="cagar3"><circle cx="905.6" cy="833.6" r="107"/></clipPath>
<path d="M830,752 L985,935 M990,762 L820,912" stroke="#6e5b52" stroke-width="2" clip-path="url(#cagar3)"/>
<path d="M915,855 q30,-5 50,20 q10,25 0,45 q-20,5 -35,-10 q-15,-25 -15,-55Z" fill="#2c211d"/>
<filter id="blurb3" x="-10%" y="-10%" width="120%" height="120%"><feGaussianBlur stdDeviation="3"/></filter>
<mask id="colb3" maskUnits="userSpaceOnUse" x="771" y="703" width="274" height="261"><g filter="url(#blurb3)"><rect x="808" y="777" width="19" height="95" rx="5" fill="#fff"/><rect x="834" y="779" width="8" height="88" rx="5" fill="#fff"/><rect x="846" y="775" width="8" height="78" rx="5" fill="#fff"/><rect x="859" y="815" width="21" height="40" rx="5" fill="#fff"/><rect x="860" y="746" width="97" height="10" rx="5" fill="#fff"/><rect x="860" y="762" width="93" height="11" rx="5" fill="#fff"/><rect x="870" y="778" width="71" height="11" rx="5" fill="#fff"/><rect x="878" y="793" width="51" height="16" rx="5" fill="#fff"/><rect x="977" y="778" width="25" height="105" rx="5" fill="#fff"/><rect x="928" y="808" width="42" height="49" rx="5" fill="#fff"/><rect x="882" y="862" width="61" height="16" rx="5" fill="#fff"/><rect x="862" y="882" width="91" height="16" rx="5" fill="#fff"/><rect x="855" y="902" width="100" height="28" rx="5" fill="#fff"/></g></mask>
<rect x="800" y="740" width="210" height="200" fill="#756a67" opacity="0.3" mask="url(#colb3)"/>
<filter id="nzb3" x="0" y="0" width="1" height="1" filterUnits="objectBoundingBox" color-interpolation-filters="sRGB"><feTurbulence type="fractalNoise" baseFrequency="0.6" numOctaves="1" seed="51"/><feColorMatrix type="matrix" values="0 0 0 0 0.937  0 0 0 0 0.922  0 0 0 0 0.914  9 0 0 0 -5.1"/></filter>
<g mask="url(#colb3)"><rect x="800" y="740" width="210" height="200" filter="url(#nzb3)"/></g>
</g>
<clipPath id="cb4"><rect x="1086" y="704" width="262" height="262"/></clipPath><g clip-path="url(#cb4)">
<defs><linearGradient id="gbg4" x1="0" y1="0" x2="1" y2="0.4"><stop offset="0" stop-color="#c9ccd0"/><stop offset="0.5" stop-color="#d5d8db"/><stop offset="1" stop-color="#dadcde"/></linearGradient><radialGradient id="gagar4"><stop offset="0" stop-color="#a89c68"/><stop offset="0.8" stop-color="#ada16c"/><stop offset="1" stop-color="#bcb17f"/></radialGradient></defs>
<rect x="1086" y="704" width="262" height="262" fill="url(#gbg4)" />
<circle cx="1216" cy="834" r="121" fill="#d8d8d2" stroke="#bdbcb5" stroke-width="1.2"/>
<circle cx="1216" cy="834" r="116" fill="#c9c6b4"/>
<circle cx="1216" cy="834" r="111.5" fill="url(#gagar4)"/>
<path d="M1128,790 L1145,770 L1175,762 L1200,755 L1232,752 L1262,756 L1292,764 L1303,776 L1298,792 L1310,812 L1304,830 L1318,838 L1322,856 L1305,866 L1312,884 L1300,900 L1284,905 L1270,924 L1240,932 L1210,934 L1185,932 L1165,926 L1148,918 L1136,906 L1118,898 L1108,876 L1115,860 L1104,846 L1118,830 L1116,812Z" fill="#c3b9b4"/>
<clipPath id="colb4"><path d="M1128,790 L1145,770 L1175,762 L1200,755 L1232,752 L1262,756 L1292,764 L1303,776 L1298,792 L1310,812 L1304,830 L1318,838 L1322,856 L1305,866 L1312,884 L1300,900 L1284,905 L1270,924 L1240,932 L1210,934 L1185,932 L1165,926 L1148,918 L1136,906 L1118,898 L1108,876 L1115,860 L1104,846 L1118,830 L1116,812Z"/></clipPath>
<filter id="nz13" x="0" y="0" width="1" height="1" filterUnits="objectBoundingBox" color-interpolation-filters="sRGB"><feTurbulence type="fractalNoise" baseFrequency="0.5" numOctaves="1" seed="52"/><feColorMatrix type="matrix" values="0 0 0 0 0.584  0 0 0 0 0.549  0 0 0 0 0.529  6 0 0 0 -3.7"/></filter>
<rect x="1100" y="740" width="230" height="200" filter="url(#nz13)" clip-path="url(#colb4)"/>
<g><path d="M1197.9,803.9L1200.5,808.7L1195.2,808.7Z" fill="#433d31"/><path d="M1230.4,871.8L1233.7,875.5L1230.4,879.3L1227.0,875.5Z" fill="#433d31"/><path d="M1255.7,854.1L1260.1,862.0L1251.3,862.0Z" fill="#433d31"/><path d="M1273.5,835.3L1275.9,837.9L1273.5,840.5L1271.1,837.9Z" fill="#433d31"/><path d="M1254.3,793.1L1258.4,800.4L1250.3,800.4Z" fill="#433d31"/><path d="M1144.8,887.4L1147.1,891.5L1142.5,891.5Z" fill="#433d31"/><path d="M1273.8,800.1L1278.0,807.8L1269.5,807.8Z" fill="#433d31"/><path d="M1155.6,869.9L1158.2,874.5L1153.1,874.5Z" fill="#433d31"/><path d="M1143.8,815.7L1147.8,822.8L1139.9,822.8Z" fill="#433d31"/><path d="M1165.0,900.6L1169.2,905.2L1165.0,909.7L1160.9,905.2Z" fill="#433d31"/><path d="M1159.1,868.8L1162.4,874.8L1155.7,874.8Z" fill="#433d31"/><path d="M1216.4,829.0L1218.4,831.2L1216.4,833.5L1214.4,831.2Z" fill="#433d31"/><path d="M1210.6,877.8L1214.0,883.9L1207.2,883.9Z" fill="#433d31"/><path d="M1224.1,900.0L1227.7,904.1L1224.1,908.1L1220.4,904.1Z" fill="#433d31"/><path d="M1279.3,882.2L1281.8,886.7L1276.8,886.7Z" fill="#433d31"/><path d="M1243.1,880.5L1246.7,884.4L1243.1,888.3L1239.6,884.4Z" fill="#433d31"/><path d="M1174.9,833.4L1179.1,841.0L1170.6,841.0Z" fill="#433d31"/><path d="M1202.8,834.6L1207.2,839.5L1202.8,844.4L1198.3,839.5Z" fill="#433d31"/><path d="M1169.9,871.9L1172.9,877.3L1166.9,877.3Z" fill="#433d31"/><path d="M1188.7,907.4L1192.0,913.3L1185.5,913.3Z" fill="#433d31"/><path d="M1258.9,879.0L1261.5,881.8L1258.9,884.6L1256.4,881.8Z" fill="#433d31"/><path d="M1245.0,778.8L1247.8,783.9L1242.1,783.9Z" fill="#433d31"/><path d="M1160.6,818.5L1163.4,823.6L1157.8,823.6Z" fill="#433d31"/><path d="M1233.8,875.2L1237.2,879.0L1233.8,882.7L1230.4,879.0Z" fill="#433d31"/><path d="M1232.3,909.3L1236.3,916.4L1228.3,916.4Z" fill="#433d31"/><path d="M1242.2,794.3L1246.4,801.9L1238.0,801.9Z" fill="#433d31"/><path d="M1146.8,844.6L1150.3,848.5L1146.8,852.3L1143.4,848.5Z" fill="#433d31"/><path d="M1247.5,905.6L1251.7,910.3L1247.5,915.0L1243.2,910.3Z" fill="#433d31"/><path d="M1160.0,896.2L1164.0,903.2L1156.1,903.2Z" fill="#433d31"/><path d="M1278.4,810.1L1281.8,813.9L1278.4,817.8L1274.9,813.9Z" fill="#433d31"/><path d="M1266.6,872.9L1269.5,878.0L1263.7,878.0Z" fill="#433d31"/><path d="M1233.0,804.2L1235.5,807.0L1233.0,809.7L1230.6,807.0Z" fill="#433d31"/><path d="M1146.9,841.4L1151.7,850.1L1142.1,850.1Z" fill="#433d31"/><path d="M1253.2,876.0L1255.5,880.0L1250.9,880.0Z" fill="#433d31"/><path d="M1167.2,889.4L1170.0,892.5L1167.2,895.6L1164.5,892.5Z" fill="#433d31"/><path d="M1163.4,899.3L1166.2,904.4L1160.6,904.4Z" fill="#433d31"/><path d="M1219.8,790.2L1223.8,797.5L1215.7,797.5Z" fill="#433d31"/><path d="M1261.4,877.8L1264.4,881.1L1261.4,884.3L1258.5,881.1Z" fill="#433d31"/><path d="M1221.9,855.8L1225.7,860.0L1221.9,864.1L1218.2,860.0Z" fill="#433d31"/><path d="M1228.7,877.4L1231.2,880.1L1228.7,882.8L1226.2,880.1Z" fill="#433d31"/><path d="M1214.9,880.7L1219.4,888.7L1210.5,888.7Z" fill="#433d31"/><path d="M1207.4,876.6L1209.7,879.1L1207.4,881.6L1205.2,879.1Z" fill="#433d31"/><path d="M1259.2,823.4L1263.1,827.8L1259.2,832.3L1255.2,827.8Z" fill="#433d31"/><path d="M1196.2,820.0L1200.3,824.6L1196.2,829.2L1192.0,824.6Z" fill="#433d31"/><path d="M1274.1,814.6L1278.3,819.3L1274.1,824.0L1269.8,819.3Z" fill="#433d31"/><path d="M1273.1,796.5L1277.8,805.0L1268.3,805.0Z" fill="#433d31"/><path d="M1279.9,871.1L1284.6,879.5L1275.2,879.5Z" fill="#433d31"/><path d="M1294.0,808.7L1298.6,817.0L1289.4,817.0Z" fill="#433d31"/><path d="M1192.1,792.5L1196.3,797.2L1192.1,801.9L1187.8,797.2Z" fill="#433d31"/><path d="M1222.5,901.4L1225.7,905.0L1222.5,908.5L1219.3,905.0Z" fill="#433d31"/><path d="M1248.2,848.9L1251.1,854.2L1245.2,854.2Z" fill="#433d31"/><path d="M1284.2,804.4L1288.6,812.5L1279.7,812.5Z" fill="#433d31"/><path d="M1221.2,796.9L1224.9,801.0L1221.2,805.1L1217.6,801.0Z" fill="#433d31"/><path d="M1176.4,897.1L1179.0,900.0L1176.4,903.0L1173.7,900.0Z" fill="#433d31"/><path d="M1185.4,829.0L1189.1,835.7L1181.7,835.7Z" fill="#433d31"/><path d="M1137.0,866.3L1139.9,871.5L1134.2,871.5Z" fill="#433d31"/><path d="M1203.4,910.2L1206.9,916.4L1200.0,916.4Z" fill="#433d31"/><path d="M1183.9,824.7L1186.3,827.4L1183.9,830.1L1181.5,827.4Z" fill="#433d31"/><path d="M1149.5,852.0L1154.4,860.9L1144.6,860.9Z" fill="#433d31"/><path d="M1237.6,915.0L1241.9,922.7L1233.4,922.7Z" fill="#433d31"/></g>
<path d="M1159,762 l4,-16 l5,16 M1166,756 h-6 M1176,757 q-6,-4 -6,4 q0,6 6,3 M1183,748 v13 M1180,752 h6 M1190,753 v8 M1196,752 q4,-2 4,3 v6 M1206,755 q-6,0 -4,5 q4,3 6,-2 M1215,754 v7 M1214,756 q4,-3 8,0 M1226,751 q-5,2 -3,8 q5,2 7,-3 M1236,747 q-6,0 -4,6 q5,3 7,-3 M1246,745 q-6,0 -4,6 q5,3 7,-3 M1256,742 q-6,0 -4,6 q5,3 7,-3 M1268,744 v12 M1264,748 h8" stroke="#111" stroke-width="1.7" fill="none"/>
<path d="M1203,932 l4,14 M1210,930 l2,16 M1218,934 q6,-2 6,4 q-2,8 -8,7 M1226,935 h6" stroke="#111" stroke-width="1.8" fill="none"/>
</g>
<text x="25.2" y="1049.5" font-size="42.3" text-anchor="start" font-weight="bold" fill="#151515" >(c)</text>
<line x1="2" y1="1538.8" x2="2" y2="1859.8" stroke="#151515" stroke-width="2.4" />
<line x1="0.8" y1="1540" x2="248" y2="1540" stroke="#151515" stroke-width="2.4" />
<line x1="0.8" y1="1858.6" x2="334" y2="1858.6" stroke="#151515" stroke-width="2.4" />
<line x1="248" y1="1343.4" x2="248" y2="1736.5" stroke="#151515" stroke-width="2.4" />
<line x1="246.8" y1="1344.6" x2="256.5" y2="1344.6" stroke="#151515" stroke-width="2.4" />
<line x1="255.3" y1="1123" x2="255.3" y2="1572.2" stroke="#151515" stroke-width="2.4" />
<line x1="254.1" y1="1571" x2="278.9" y2="1571" stroke="#151515" stroke-width="2.4" />
<line x1="277.7" y1="1528.8" x2="277.7" y2="1612.8" stroke="#151515" stroke-width="2.4" />
<line x1="276.5" y1="1530" x2="300" y2="1530" stroke="#151515" stroke-width="2.4" />
<line x1="276.5" y1="1611.6" x2="300" y2="1611.6" stroke="#151515" stroke-width="2.4" />
<line x1="246.8" y1="1735.3" x2="265.8" y2="1735.3" stroke="#151515" stroke-width="2.4" />
<line x1="264.6" y1="1693.2" x2="264.6" y2="1777.9" stroke="#151515" stroke-width="2.4" />
<line x1="263.4" y1="1694.4" x2="310" y2="1694.4" stroke="#151515" stroke-width="2.4" />
<line x1="263.4" y1="1776.7" x2="334" y2="1776.7" stroke="#151515" stroke-width="2.4" />
<line x1="33.5" y1="1478" x2="192.5" y2="1478" stroke="#151515" stroke-width="2.4" />
<line x1="33.5" y1="1472.5" x2="33.5" y2="1483" stroke="#151515" stroke-width="2.4" />
<line x1="192.5" y1="1472.5" x2="192.5" y2="1483" stroke="#151515" stroke-width="2.4" />
<text x="114" y="1511.6" font-size="28.2" text-anchor="middle" fill="#151515" >0.10</text>
<text x="268.5" y="1128.8" font-size="28.2" text-anchor="start" font-style="italic" fill="#AE0B40" >Streptomyces #107</text>
<text x="268.5" y="1211.6" font-size="28.2" text-anchor="start" font-style="italic" fill="#AE0B40" >Streptomyces #113</text>
<text x="268.5" y="1293" font-size="28.2" text-anchor="start" font-style="italic" fill="#AE0B40" >Streptomyces #103</text>
<text x="268.5" y="1374.4" font-size="28.2" text-anchor="start" font-style="italic" fill="#AE0B40" >Streptomyces #581</text>
<text x="310.5" y="1540" font-size="28.2" text-anchor="start" font-style="italic" fill="#AE0B40" >Streptomyces #112</text>
<text x="310" y="1621" font-size="28.2" text-anchor="start" font-style="italic" fill="#AE0B40" >Streptomyces #575</text>
<text x="276.5" y="1454.4" font-size="28.2" fill="#151515"><tspan font-style="italic">S. murinus</tspan> (MN726707)</text>
<text x="326.5" y="1702" font-size="24.3" fill="#151515"><tspan font-style="italic">S. davaonensis</tspan> (MT242592)</text>
<text x="350.5" y="1784" font-size="24.3" fill="#151515"><tspan font-style="italic">S. polyrhachis</tspan> (MT812505)</text>
<text x="353.5" y="1866.5" font-size="24.3" fill="#151515"><tspan font-style="italic">M. luteus</tspan> (AB088764)</text>
<text x="222" y="1335" font-size="14.2" text-anchor="start" fill="#151515" >100</text>
<text x="212.6" y="1530" font-size="14.2" text-anchor="start" fill="#151515" >100</text>
<text x="251" y="1597.7" font-size="14.2" text-anchor="start" fill="#151515" >100</text>
<text x="231.6" y="1758" font-size="14.2" text-anchor="start" fill="#151515" >100</text>
<text x="647.8" y="1049.5" font-size="42.3" text-anchor="start" font-weight="bold" fill="#151515" >(d)</text>
<line x1="825.7" y1="1027.4" x2="825.7" y2="1402.6" stroke="#151515" stroke-width="2.6" />
<line x1="824.4" y1="1401.4" x2="1151.2" y2="1401.4" stroke="#151515" stroke-width="2.6" />
<line x1="815.2" y1="1384.3" x2="825.7" y2="1384.3" stroke="#151515" stroke-width="2.6" />
<text x="807.7" y="1392.3" font-size="21.5" text-anchor="end" fill="#151515" >0</text>
<line x1="815.2" y1="1329.45" x2="825.7" y2="1329.45" stroke="#151515" stroke-width="2.6" />
<text x="807.7" y="1337.45" font-size="21.5" text-anchor="end" fill="#151515" >1.0</text>
<line x1="815.2" y1="1274.6" x2="825.7" y2="1274.6" stroke="#151515" stroke-width="2.6" />
<text x="807.7" y="1282.6" font-size="21.5" text-anchor="end" fill="#151515" >2.0</text>
<line x1="815.2" y1="1219.75" x2="825.7" y2="1219.75" stroke="#151515" stroke-width="2.6" />
<text x="807.7" y="1227.75" font-size="21.5" text-anchor="end" fill="#151515" >3.0</text>
<line x1="815.2" y1="1164.8999999999999" x2="825.7" y2="1164.8999999999999" stroke="#151515" stroke-width="2.6" />
<text x="807.7" y="1172.8999999999999" font-size="21.5" text-anchor="end" fill="#151515" >4.0</text>
<line x1="815.2" y1="1110.05" x2="825.7" y2="1110.05" stroke="#151515" stroke-width="2.6" />
<text x="807.7" y="1118.05" font-size="21.5" text-anchor="end" fill="#151515" >5.0</text>
<line x1="815.2" y1="1055.1999999999998" x2="825.7" y2="1055.1999999999998" stroke="#151515" stroke-width="2.6" />
<text x="807.7" y="1063.1999999999998" font-size="21.5" text-anchor="end" fill="#151515" >6.0</text>
<line x1="841.7" y1="1401.4" x2="841.7" y2="1408" stroke="#151515" stroke-width="2.6" />
<text x="841.9000000000001" y="1428" font-size="21" text-anchor="middle" fill="#151515" >day1</text>
<line x1="972.4" y1="1401.4" x2="972.4" y2="1408" stroke="#151515" stroke-width="2.6" />
<text x="972.6" y="1428" font-size="21" text-anchor="middle" fill="#151515" >day5</text>
<line x1="1133.4" y1="1401.4" x2="1133.4" y2="1408" stroke="#151515" stroke-width="2.6" />
<text x="1133.6000000000001" y="1428" font-size="21" text-anchor="middle" fill="#151515" >day10</text>
<text transform="translate(758,1222.5) rotate(-90)" font-size="20" text-anchor="middle" fill="#151515"><tspan font-style="italic">Streptomyces</tspan> abundance (10<tspan font-size="13" dy="-7">5</tspan><tspan dy="7"> copies/mg)</tspan></text>
<path d="M835.5,1232.5H855.5M845.5,1232.5V1290.9M835.5,1290.9H855.5" stroke="#111" stroke-width="4.6" fill="none"/>
<path d="M964,1132.3H984M974,1132.3V1230.5M964,1230.5H984" stroke="#111" stroke-width="4.6" fill="none"/>
<path d="M1125,1202H1145M1135,1202V1271.8M1125,1271.8H1145" stroke="#111" stroke-width="4.6" fill="none"/>
<polyline points="845.5,1261 974,1181.4 1135,1236.5" stroke="#111" stroke-width="6.3" fill="none"/>
<rect x="835.5" y="1251" width="20" height="20" fill="#111" />
<rect x="964" y="1171.4" width="20" height="20" fill="#111" />
<rect x="1125" y="1226.5" width="20" height="20" fill="#111" />
<path d="M832,1216.6H852M842,1216.6V1288.2M832,1288.2H852" stroke="#978A40" stroke-width="4.6" fill="none"/>
<path d="M960.7,1052H980.7M970.7,1052V1196.6M960.7,1196.6H980.7" stroke="#978A40" stroke-width="4.6" fill="none"/>
<path d="M1121.5,1110.4H1141.5M1131.5,1110.4V1219.7M1121.5,1219.7H1141.5" stroke="#978A40" stroke-width="4.6" fill="none"/>
<polyline points="842,1252.4 970.7,1124.3 1131.5,1165.4" stroke="#978A40" stroke-width="6.3" fill="none" stroke-dasharray="10 7"/>
<circle cx="842" cy="1252.4" r="10" fill="#978A40"/>
<circle cx="970.7" cy="1124.3" r="10" fill="#978A40"/>
<circle cx="1131.5" cy="1165.4" r="10" fill="#978A40"/>
<path d="M1164.8,1152.2H1169.3V1254H1164.8" stroke="#111" stroke-width="2.8" fill="none"/>
<text transform="translate(1167.6,1203) rotate(90)" font-size="26.5" text-anchor="middle" font-weight="bold" fill="#1e1816">**</text>
<path d="M1191,1165.6H1196M1221.3,1165.6H1226.3" stroke="#978A40" stroke-width="7.6"/>
<circle cx="1208.6" cy="1165.6" r="9.3" fill="#978A40"/>
<line x1="1191" y1="1238.1" x2="1226.3" y2="1238.1" stroke="#111" stroke-width="6" />
<rect x="1199.4" y="1229.3" width="18.5" height="17.7" fill="#111" />
<text x="1244.5" y="1173.7" font-size="27" text-anchor="start" fill="#151515" >with-corpse</text>
<text x="1244.5" y="1246" font-size="27" text-anchor="start" fill="#151515" >without-corpse</text>
<text x="654.7" y="1489.5" font-size="42.3" text-anchor="start" font-weight="bold" fill="#151515" >(e)</text>
<line x1="815.5" y1="1501.6" x2="815.5" y2="1817" stroke="#151515" stroke-width="2.8" />
<line x1="805.8" y1="1815.6" x2="815.5" y2="1815.6" stroke="#151515" stroke-width="2.8" />
<text x="799.8" y="1823.6" font-size="21.7" text-anchor="end" fill="#151515" >0</text>
<line x1="805.8" y1="1738.75" x2="815.5" y2="1738.75" stroke="#151515" stroke-width="2.8" />
<text x="799.8" y="1746.75" font-size="21.7" text-anchor="end" fill="#151515" >0.1</text>
<line x1="805.8" y1="1661.8999999999999" x2="815.5" y2="1661.8999999999999" stroke="#151515" stroke-width="2.8" />
<text x="799.8" y="1669.8999999999999" font-size="21.7" text-anchor="end" fill="#151515" >0.2</text>
<line x1="805.8" y1="1585.05" x2="815.5" y2="1585.05" stroke="#151515" stroke-width="2.8" />
<text x="799.8" y="1593.05" font-size="21.7" text-anchor="end" fill="#151515" >0.3</text>
<line x1="805.8" y1="1508.1999999999998" x2="815.5" y2="1508.1999999999998" stroke="#151515" stroke-width="2.8" />
<text x="799.8" y="1516.1999999999998" font-size="21.7" text-anchor="end" fill="#151515" >0.4</text>
<line x1="805.8" y1="1815.6" x2="970.4" y2="1815.6" stroke="#151515" stroke-width="2.8" />
<line x1="1004.1" y1="1815.6" x2="1159.7" y2="1815.6" stroke="#151515" stroke-width="2.8" />
<line x1="1192.4" y1="1815.6" x2="1348.3" y2="1815.6" stroke="#151515" stroke-width="2.8" />
<rect x="827.2" y="1715" width="63.69999999999993" height="99.59999999999991" fill="#978B40" />
<path d="M851.9000000000001,1681.7H865.5M858.7,1681.7V1748.2M851.9000000000001,1748.2H865.5" stroke="#111" stroke-width="3" fill="none"/>
<line x1="857.3" y1="1815.6" x2="857.3" y2="1821.5" stroke="#151515" stroke-width="2.8" />
<rect x="897.9" y="1641.7" width="63.700000000000045" height="172.89999999999986" fill="#3D3D3D" />
<path d="M922.7,1612.6H936.3M929.5,1612.6V1670.2M922.7,1670.2H936.3" stroke="#111" stroke-width="3" fill="none"/>
<line x1="928" y1="1815.6" x2="928" y2="1821.5" stroke="#151515" stroke-width="2.8" />
<rect x="1015.4" y="1566.1" width="63.39999999999998" height="248.5" fill="#978B40" />
<path d="M1040.2,1539.6H1053.8M1047,1539.6V1593.8M1040.2,1593.8H1053.8" stroke="#111" stroke-width="3" fill="none"/>
<line x1="1047" y1="1815.6" x2="1047" y2="1821.5" stroke="#151515" stroke-width="2.8" />
<rect x="1086.1" y="1721.2" width="63.700000000000045" height="93.39999999999986" fill="#3D3D3D" />
<path d="M1110.9,1675.5H1124.5M1117.7,1675.5V1766.3M1110.9,1766.3H1124.5" stroke="#111" stroke-width="3" fill="none"/>
<line x1="1117.7" y1="1815.6" x2="1117.7" y2="1821.5" stroke="#151515" stroke-width="2.8" />
<rect x="1204.2" y="1548.4" width="63.799999999999955" height="266.1999999999998" fill="#978B40" />
<path d="M1229.2,1516.5H1242.8M1236,1516.5V1580.8M1229.2,1580.8H1242.8" stroke="#111" stroke-width="3" fill="none"/>
<line x1="1236" y1="1815.6" x2="1236" y2="1821.5" stroke="#151515" stroke-width="2.8" />
<rect x="1275.3" y="1707.1" width="63.40000000000009" height="107.5" fill="#3D3D3D" />
<path d="M1300.0,1674.7H1313.6M1306.8,1674.7V1739.2M1300.0,1739.2H1313.6" stroke="#111" stroke-width="3" fill="none"/>
<line x1="1306.8" y1="1815.6" x2="1306.8" y2="1821.5" stroke="#151515" stroke-width="2.8" />
<path d="M863.1999999999999,1495.8V1492.6H925.6V1495.8" stroke="#111" stroke-width="2.8" fill="none"/>
<text x="894.1" y="1485.2" font-size="16.5" text-anchor="middle" fill="#151515" >n.s.</text>
<path d="M1050.9,1495.8V1492.6H1113.6V1495.8" stroke="#111" stroke-width="2.8" fill="none"/>
<text x="1082.2" y="1492.5" font-size="24.3" text-anchor="middle" font-weight="bold" fill="#1e1816" >**</text>
<path d="M1239.7,1495.8V1492.6H1302.6V1495.8" stroke="#111" stroke-width="2.8" fill="none"/>
<text x="1271.4" y="1492.5" font-size="24.3" text-anchor="middle" font-weight="bold" fill="#1e1816" >***</text>
<text transform="translate(758,1662.9) rotate(-90)" font-size="19.75" text-anchor="middle" fill="#151515">Relative ratio of growth-inhibited spores</text>
<text transform="translate(858.8,1845.5) rotate(-30)" font-size="20" text-anchor="end" fill="#151515">with-corpse</text>
<text transform="translate(1048.5,1845.5) rotate(-30)" font-size="20" text-anchor="end" fill="#151515">with-corpse</text>
<text transform="translate(1237.5,1845.5) rotate(-30)" font-size="20" text-anchor="end" fill="#151515">with-corpse</text>
<text transform="translate(928,1845.5) rotate(-30)" font-size="20.3" text-anchor="end" fill="#151515">without-corpse</text>
<text transform="translate(1117.7,1845.5) rotate(-30)" font-size="20.3" text-anchor="end" fill="#151515">without-corpse</text>
<text transform="translate(1306.8,1845.5) rotate(-30)" font-size="20.3" text-anchor="end" fill="#151515">without-corpse</text>
<line x1="829.6" y1="1920.5" x2="959.3" y2="1920.5" stroke="#151515" stroke-width="2.9" />
<text x="894.45" y="1939.7" font-size="17.5" text-anchor="middle" fill="#151515" >1 day</text>
<text x="894.45" y="1957.8" font-size="17.5" text-anchor="middle" fill="#151515" >nest material</text>
<line x1="1017" y1="1920.5" x2="1146.7" y2="1920.5" stroke="#151515" stroke-width="2.9" />
<text x="1081.85" y="1939.7" font-size="17.5" text-anchor="middle" fill="#151515" >5 day</text>
<text x="1081.85" y="1957.8" font-size="17.5" text-anchor="middle" fill="#151515" >nest material</text>
<line x1="1206" y1="1920.5" x2="1335.6" y2="1920.5" stroke="#151515" stroke-width="2.9" />
<text x="1270.8" y="1939.7" font-size="17.5" text-anchor="middle" fill="#151515" >10 day</text>
<text x="1270.8" y="1957.8" font-size="17.5" text-anchor="middle" fill="#151515" >nest material</text>
<text x="756.6" y="1939.7" font-size="17.5" text-anchor="middle" fill="#151515" >Time since</text>
<text x="758.9" y="1957.8" font-size="17.5" text-anchor="middle" fill="#151515" >burial</text>
</svg></body></html>
